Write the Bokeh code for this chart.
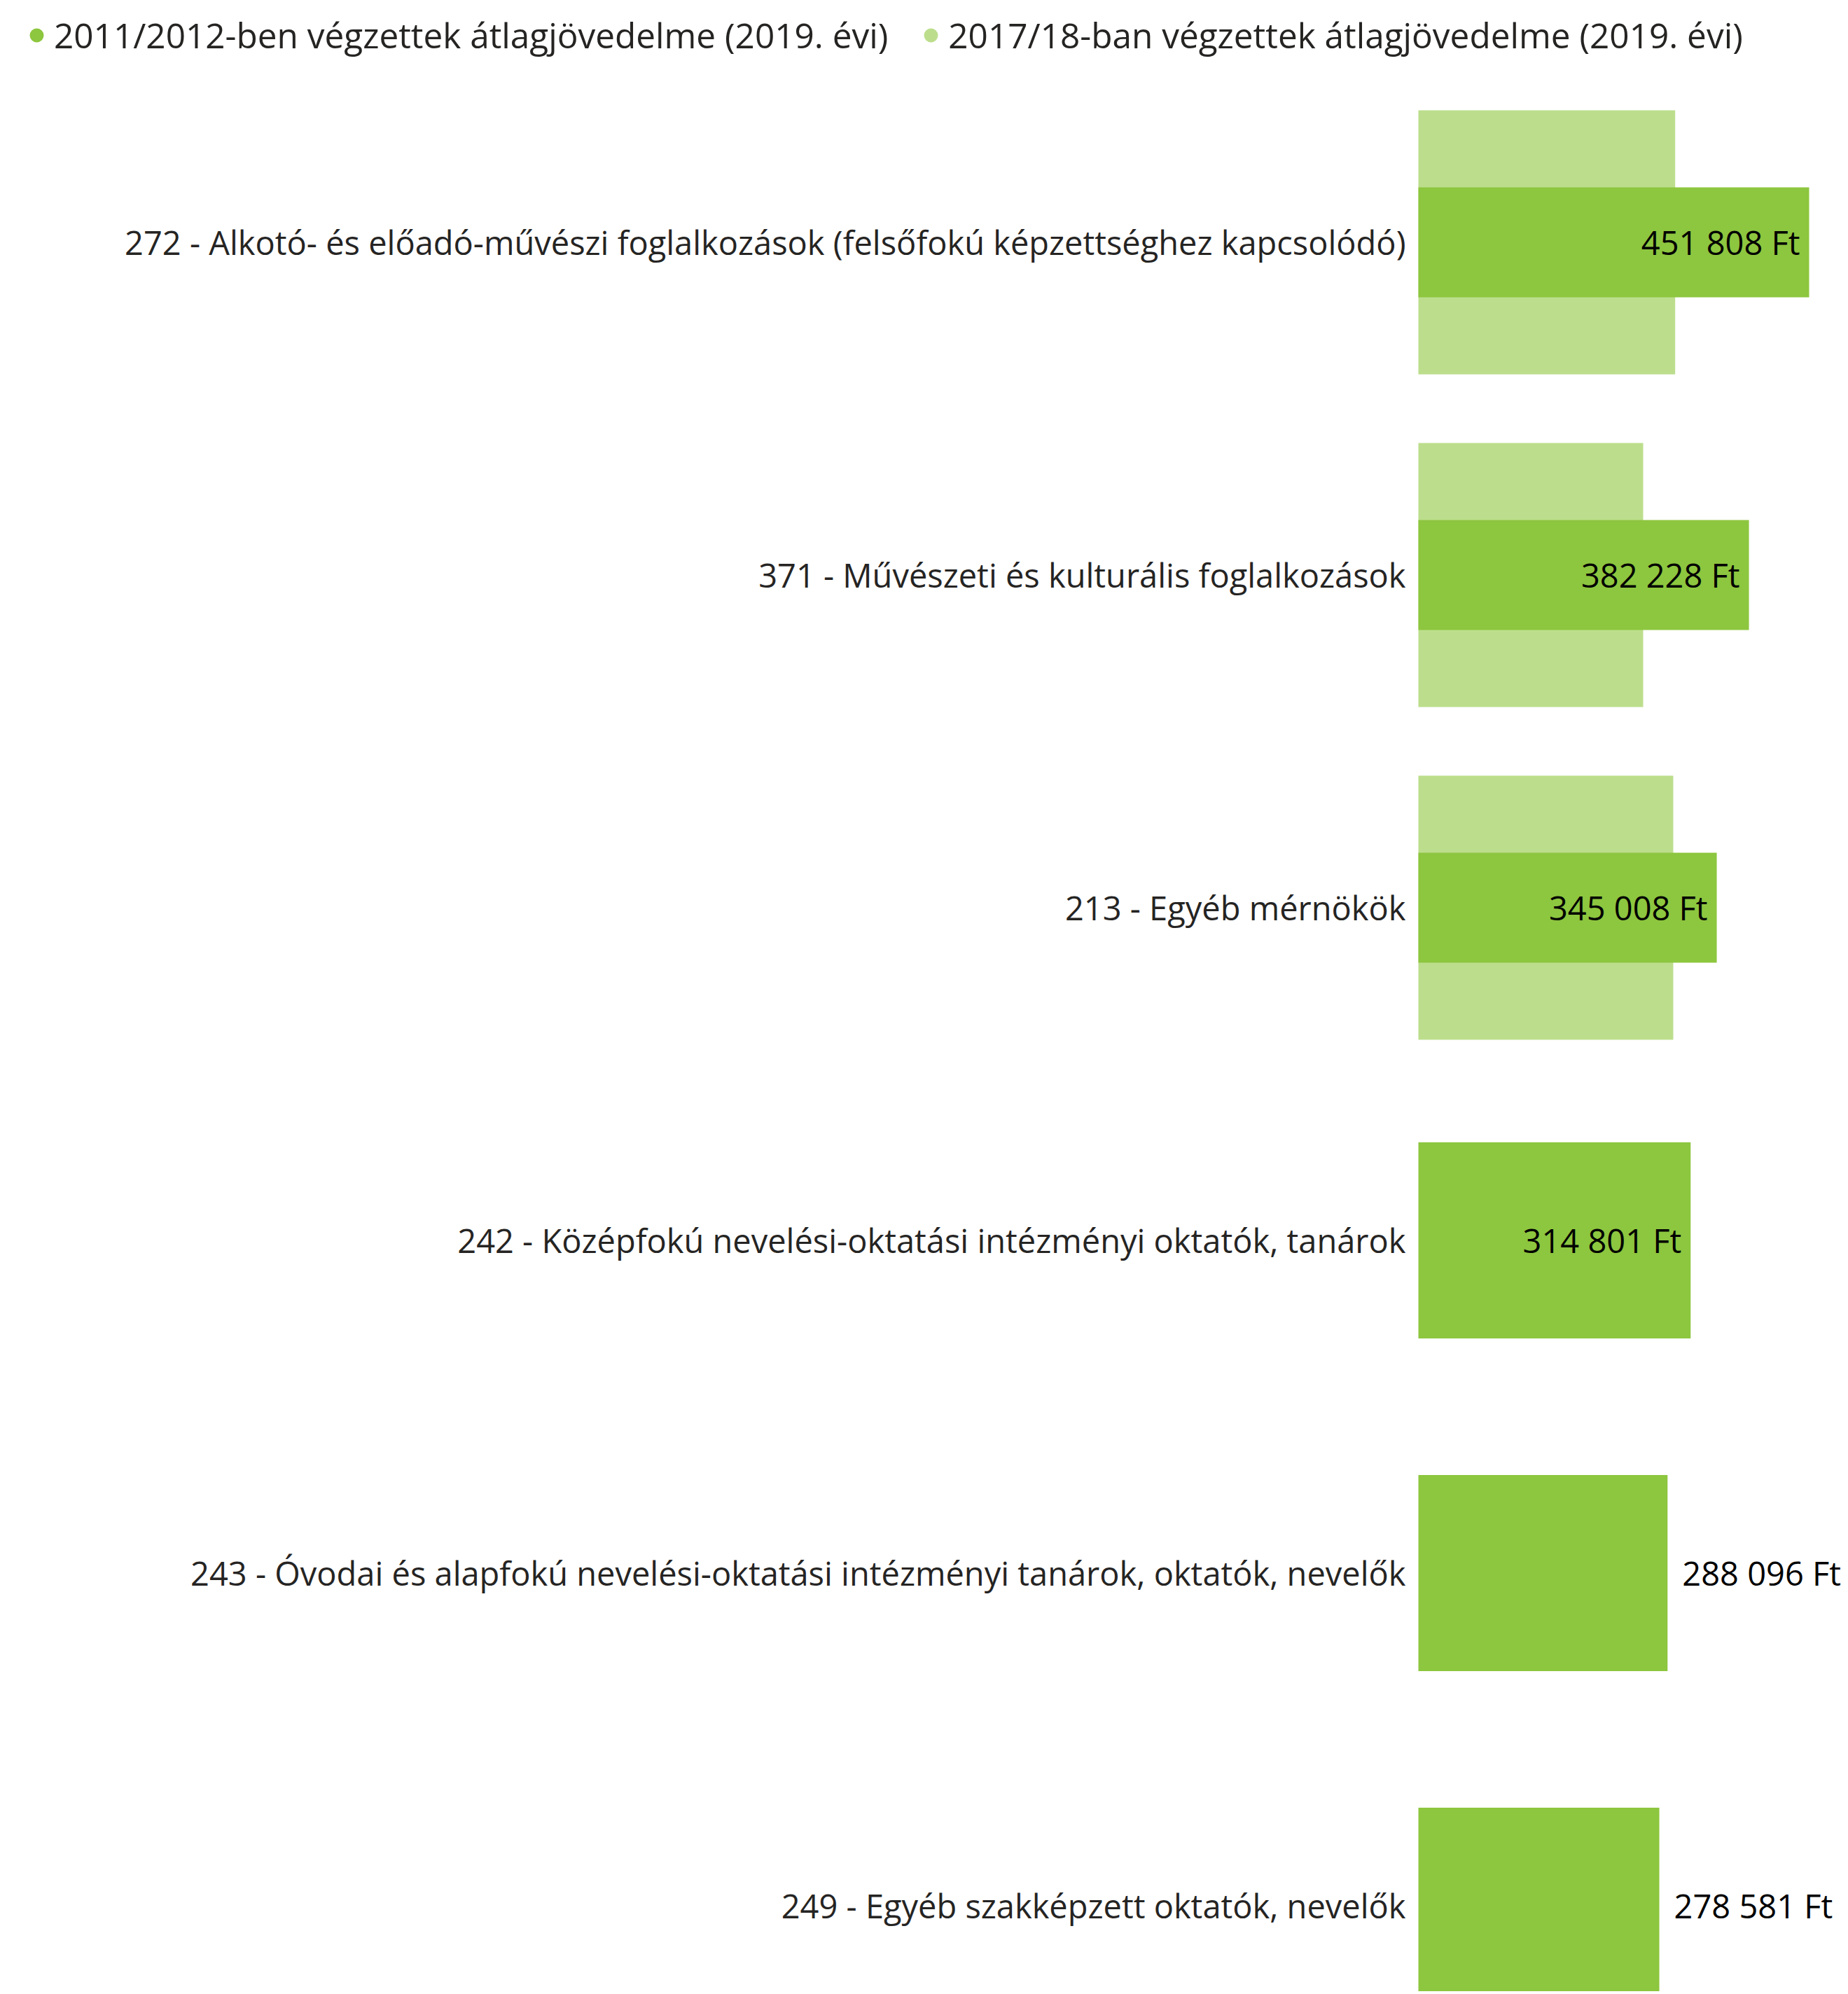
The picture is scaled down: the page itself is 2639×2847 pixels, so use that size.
from bokeh.plotting import figure
from bokeh.models import Range1d, ColumnDataSource, Legend, LegendItem
from bokeh.embed import file_html
from bokeh.resources import INLINE
from bokeh.core.properties import value

# ---------------- data ----------------
categories = [
    "272 - Alkotó- és előadó-művészi foglalkozások (felsőfokú képzettséghez kapcsolódó)",
    "371 - Művészeti és kulturális foglalkozások",
    "213 - Egyéb mérnökök",
    "242 - Középfokú nevelési-oktatási intézményi oktatók, tanárok",
    "243 - Óvodai és alapfokú nevelési-oktatási intézményi tanárok, oktatók, nevelők",
    "249 - Egyéb szakképzett oktatók, nevelők",
]
income_2011_12 = [451808, 382228, 345008, 314801, 288096, 278581]
income_2017_18 = [296900, 259900, 294700, None, None, None]
series_names = [
    "2011/2012-ben végzettek átlagjövedelme (2019. évi)",
    "2017/18-ban végzettek átlagjövedelme (2019. évi)",
]

# ---------------- styling / layout ----------------
DARK = "#8DC63F"
LIGHT = "#BCDE8C"
TEXT = "#252423"
FONT = "Open Sans"

W, H = 2635, 2843
ZERO_X = 2025              # canvas x where the value 0 sits
FT_PER_PX = 809.7
STEP = 475.0               # px between category centres
FIRST_CENTER = 345.5       # canvas y of the first category centre

x_start = -ZERO_X * FT_PER_PX
x_end = (W - ZERO_X) * FT_PER_PX
y_top = -FIRST_CENTER / STEP
y_bottom = (H - FIRST_CENTER) / STEP

pos = list(range(len(categories)))

p = figure(width=W, height=H, output_backend="svg", toolbar_location=None,
           x_range=Range1d(x_start, x_end), y_range=Range1d(y_bottom, y_top),
           x_axis_location=None, y_axis_location=None,
           min_border_left=0, min_border_right=0,
           min_border_top=0, min_border_bottom=0)
p.outline_line_color = None
p.xgrid.visible = False
p.ygrid.visible = False
p.background_fill_color = "white"
p.border_fill_color = "white"

# light (2017/18) bars behind
lp = [i for i, v in zip(pos, income_2017_18) if v is not None]
lv = [v for v in income_2017_18 if v is not None]
light_src = ColumnDataSource(dict(y=lp, right=lv))
p.hbar(y="y", left=0, right="right", height=377 / STEP, source=light_src,
       fill_color=LIGHT, line_color=None)

# dark (2011/12) bars
dark_h = [(157 if l is not None else 280) / STEP for l in income_2017_18]
dark_src = ColumnDataSource(dict(y=pos, right=income_2011_12, h=dark_h))
p.hbar(y="y", left=0, right="right", height="h", source=dark_src,
       fill_color=DARK, line_color=None)


def fmt(v):
    return f"{v:,}".replace(",", " ") + " Ft"


inside = [(i, v) for i, v in zip(pos, income_2011_12) if v >= 300000]
outside = [(i, v) for i, v in zip(pos, income_2011_12) if v < 300000]
src_in = ColumnDataSource(dict(y=[a for a, _ in inside], x=[b for _, b in inside],
                               t=[fmt(b) for _, b in inside]))
src_out = ColumnDataSource(dict(y=[a for a, _ in outside], x=[b for _, b in outside],
                                t=[fmt(b) for _, b in outside]))
p.text(x="x", y="y", text="t", source=src_in, text_align="right", text_baseline="middle",
       x_offset=-13, text_font=value(FONT), text_font_size="47px", text_color="#000000")
p.text(x="x", y="y", text="t", source=src_out, text_align="left", text_baseline="middle",
       x_offset=21, text_font=value(FONT), text_font_size="47px", text_color="#000000")

# category labels at the value axis origin
cat_src = ColumnDataSource(dict(y=pos, x=[0] * len(pos), t=categories))
p.text(x="x", y="y", text="t", source=cat_src, text_align="right", text_baseline="middle",
       x_offset=-18, text_font=value(FONT), text_font_size="47px", text_color=TEXT)

# legend (dots) - renderers hold a single NaN point so nothing is drawn in the plot
nan = float("nan")
d1 = p.scatter(x=[nan], y=[nan], marker="circle", size=20, fill_color=DARK, line_color=None)
d2 = p.scatter(x=[nan], y=[nan], marker="circle", size=20, fill_color=LIGHT, line_color=None)
LEG_H = 80
legend = Legend(items=[LegendItem(label=series_names[0], renderers=[d1]),
                       LegendItem(label=series_names[1], renderers=[d2])],
                orientation="horizontal",
                location=(27, H - 10 - LEG_H),
                glyph_width=50, glyph_height=LEG_H, label_height=LEG_H,
                label_standoff=0, spacing=36, padding=0, margin=0,
                border_line_color=None, background_fill_alpha=0,
                label_text_font=FONT, label_text_font_size="49.5px",
                label_text_color=TEXT)
p.add_layout(legend)

open("out.html", "w").write(file_html(p, INLINE))
